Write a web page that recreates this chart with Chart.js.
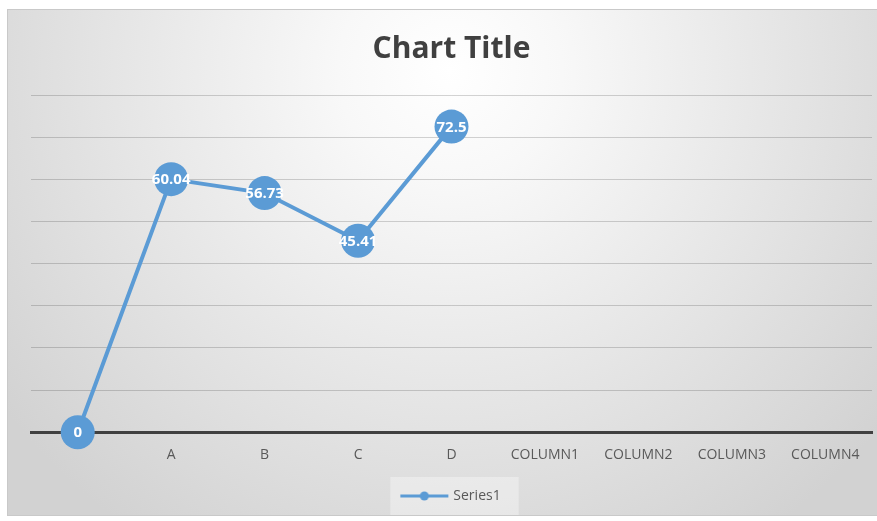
<!DOCTYPE html>
<html>
<head>
<meta charset="utf-8">
<script src="https://cdn.jsdelivr.net/npm/chart.js@4.4.1/dist/chart.umd.min.js"></script>
<style>
  html, body { margin: 0; padding: 0; background: #fff; }
  #wrap { width: 877px; height: 521px; }
</style>
</head>
<body>
<div id="wrap"><canvas id="chart"></canvas></div>
<script>
// chart data
const categories = ["", "A", "B", "C", "D", "COLUMN1", "COLUMN2", "COLUMN3", "COLUMN4"];
const series1 = [0, 60.04, 56.73, 45.41, 72.5, null, null, null, null];
const seriesName = "Series1";
const chartTitle = "Chart Title";

const blue = "#5b9bd5";

// legend glyph: line with a dot in the middle
const legendGlyph = document.createElement("canvas");
legendGlyph.width = 50;
legendGlyph.height = 12;
(function () {
  const g = legendGlyph.getContext("2d");
  g.strokeStyle = blue;
  g.lineWidth = 3;
  g.beginPath();
  g.moveTo(1, 6);
  g.lineTo(49, 6);
  g.stroke();
  g.fillStyle = blue;
  g.beginPath();
  g.arc(25, 6, 4.5, 0, Math.PI * 2);
  g.fill();
})();

// frame + radial gradient background, and the light legend box
const backdrop = {
  id: "backdrop",
  beforeDraw(chart) {
    const ctx = chart.ctx;
    ctx.save();
    ctx.fillStyle = "#ffffff";
    ctx.fillRect(0, 0, chart.width, chart.height);
    const grad = ctx.createRadialGradient(450, 70, 0, 450, 70, 560);
    grad.addColorStop(0, "#ffffff");
    grad.addColorStop(0.2, "#f8f8f8");
    grad.addColorStop(1, "#d2d2d2");
    ctx.fillStyle = grad;
    ctx.fillRect(7, 9, chart.width - 7, 506);
    ctx.strokeStyle = "#c9c9c9";
    ctx.lineWidth = 1;
    ctx.strokeRect(7.5, 9.5, chart.width - 7, 506);

    const hb = chart.legend && chart.legend.legendHitBoxes && chart.legend.legendHitBoxes[0];
    if (hb) {
      ctx.fillStyle = "rgba(255,255,255,0.35)";
      ctx.fillRect(hb.left - 12, hb.top - 12, hb.width + 30, hb.height + 24);
    }
    ctx.restore();
  }
};

// white value labels inside the markers
const valueLabels = {
  id: "valueLabels",
  afterDatasetsDraw(chart) {
    const ctx = chart.ctx;
    const meta = chart.getDatasetMeta(0);
    ctx.save();
    ctx.fillStyle = "#ffffff";
    ctx.font = "bold 15px 'Open Sans'";
    ctx.textAlign = "center";
    ctx.textBaseline = "middle";
    meta.data.forEach((pt, i) => {
      const v = series1[i];
      if (v === null || v === undefined) return;
      ctx.fillText(String(v), pt.x, pt.y + 1);
    });
    ctx.restore();
  }
};

new Chart(document.getElementById("chart"), {
  type: "line",
  data: {
    labels: categories,
    datasets: [{
      label: seriesName,
      data: series1,
      borderColor: blue,
      backgroundColor: blue,
      borderWidth: 4,
      pointRadius: 17,
      pointHoverRadius: 17,
      pointBackgroundColor: blue,
      pointBorderWidth: 0,
      tension: 0,
      clip: false
    }]
  },
  options: {
    responsive: true,
    maintainAspectRatio: false,
    animation: false,
    events: [],
    layout: { autoPadding: false, padding: { left: 31, right: 5, top: 9, bottom: 8 } },
    plugins: {
      title: {
        display: true,
        text: chartTitle,
        color: "#404040",
        font: { family: "'Open Sans'", size: 30, weight: "bold", lineHeight: 1.2 },
        padding: { top: 22, bottom: 28 }
      },
      legend: {
        position: "bottom",
        labels: {
          color: "#595959",
          font: { family: "'Open Sans'", size: 14, lineHeight: 1.2 },
          usePointStyle: true,
          pointStyleWidth: 44,
          padding: 12,
          generateLabels(chart) {
            const items = Chart.defaults.plugins.legend.labels.generateLabels(chart);
            items.forEach(it => { it.pointStyle = legendGlyph; });
            return items;
          }
        }
      },
      tooltip: { enabled: false }
    },
    scales: {
      x: {
        offset: true,
        grid: { display: false, drawTicks: false },
        border: { display: true, color: "#404040", width: 3 },
        ticks: {
          color: "#595959",
          font: { family: "'Open Sans'", size: 14, lineHeight: 1.2 },
          padding: 14,
          maxRotation: 0,
          autoSkip: false
        },
        afterFit(scale) { scale.paddingLeft = 0; scale.paddingRight = 0; }
      },
      y: {
        min: 0,
        max: 80,
        ticks: { display: false, stepSize: 10 },
        grid: { color: "rgba(0,0,0,0.17)", lineWidth: 1, drawTicks: false },
        border: { display: false },
        afterFit(scale) { scale.width = 0; }
      }
    }
  },
  plugins: [backdrop, valueLabels]
});
</script>
</body>
</html>
